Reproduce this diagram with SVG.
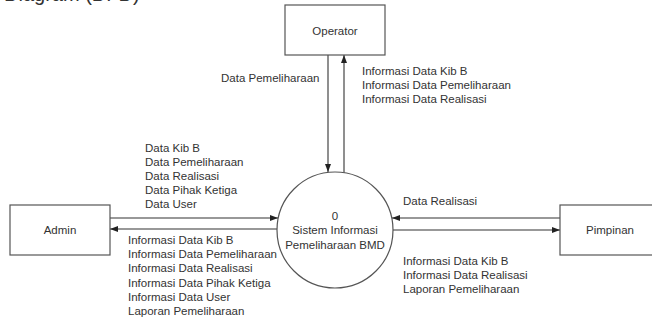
<svg xmlns="http://www.w3.org/2000/svg" width="652" height="320" viewBox="0 0 652 320">
<style>
.box{fill:#fff;stroke:#555;stroke-width:1.2}
.ln{fill:none;stroke:#333;stroke-width:1.1}
text{font-family:"Liberation Sans",Arial,sans-serif;font-size:11.5px;fill:#333}
.c{text-anchor:middle}
.title{font-size:20px;fill:#333}
</style>
<defs>
<marker id="ah" markerUnits="userSpaceOnUse" markerWidth="8" markerHeight="6" refX="8" refY="3" orient="auto">
<path d="M0,0 L8,3 L0,6 z" fill="#222"/>
</marker>
</defs>
<rect width="652" height="320" fill="#fff"/>
<text class="title" x="4" y="1">Diagram (DFD)</text>
<g id="connectors">
<line class="ln" x1="328" y1="55" x2="328" y2="172" marker-end="url(#ah)"/>
<line class="ln" x1="344" y1="173" x2="344" y2="55" marker-end="url(#ah)"/>
<line class="ln" x1="110" y1="218" x2="278" y2="218" marker-end="url(#ah)"/>
<line class="ln" x1="277" y1="229" x2="110" y2="229" marker-end="url(#ah)"/>
<line class="ln" x1="560" y1="218" x2="392" y2="218" marker-end="url(#ah)"/>
<line class="ln" x1="393" y1="230" x2="560" y2="230" marker-end="url(#ah)"/>
<text x="221" y="82">Data Pemeliharaan</text>
<text x="362" y="75">Informasi Data Kib B</text>
<text x="362" y="89">Informasi Data Pemeliharaan</text>
<text x="362" y="103">Informasi Data Realisasi</text>
<text x="145" y="152">Data Kib B</text>
<text x="145" y="166">Data Pemeliharaan</text>
<text x="145" y="180">Data Realisasi</text>
<text x="145" y="194">Data Pihak Ketiga</text>
<text x="145" y="208">Data User</text>
<text x="128" y="244">Informasi Data Kib B</text>
<text x="128" y="258">Informasi Data Pemeliharaan</text>
<text x="128" y="272">Informasi Data Realisasi</text>
<text x="128" y="287">Informasi Data Pihak Ketiga</text>
<text x="128" y="301">Informasi Data User</text>
<text x="128" y="315">Laporan Pemeliharaan</text>
<text x="403" y="205">Data Realisasi</text>
<text x="403" y="265">Informasi Data Kib B</text>
<text x="403" y="279">Informasi Data Realisasi</text>
<text x="403" y="293">Laporan Pemeliharaan</text>
</g>
<g id="operator">
<rect class="box" x="285" y="5" width="100" height="50"/>
<text class="c" x="335" y="35">Operator</text>
</g>
<g id="admin">
<rect class="box" x="10" y="205" width="100" height="50"/>
<text class="c" x="60" y="234">Admin</text>
</g>
<g id="pimpinan">
<rect class="box" x="560" y="205" width="100" height="50"/>
<text class="c" x="610" y="234">Pimpinan</text>
</g>
<g id="process">
<circle class="box" cx="335" cy="230" r="58"/>
<text class="c" x="335" y="220">0</text>
<text class="c" x="335" y="234">Sistem Informasi</text>
<text class="c" x="335" y="249">Pemeliharaan BMD</text>
</g>
</svg>
